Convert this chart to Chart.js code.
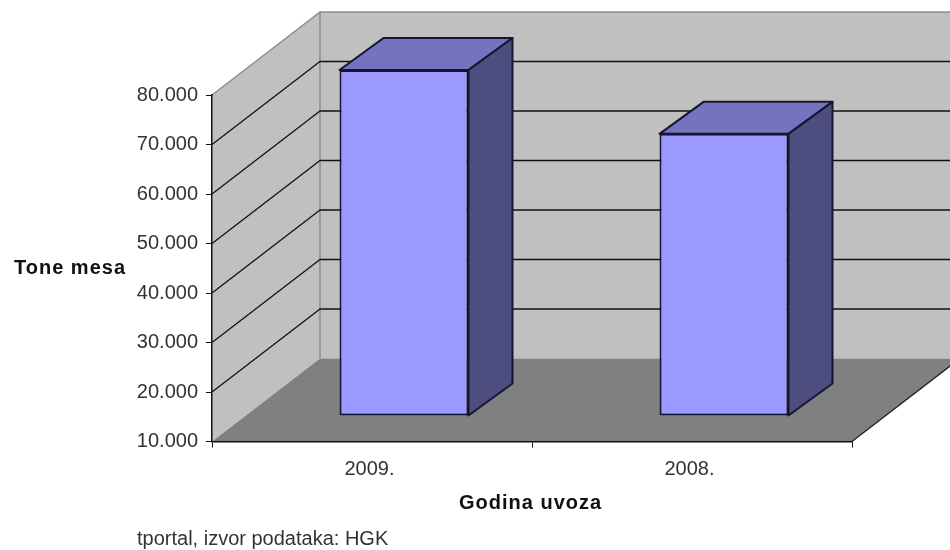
<!DOCTYPE html>
<html>
<head>
<meta charset="utf-8">
<title>Tone mesa</title>
<script src="https://cdn.jsdelivr.net/npm/chart.js@4"></script>
<style>
  html, body { margin: 0; padding: 0; background: #fff; }
  canvas { display: block; }
</style>
</head>
<body>
<canvas id="chart" width="950" height="550"></canvas>
<script>
// podaci
const categories = ['2009.', '2008.'];
const tonnes = [79900, 67000];
const yMin = 10000;
const yMax = 80000;
const yStep = 10000;
const yTitle = 'Tone mesa';
const xTitle = 'Godina uvoza';
const sourceNote = 'tportal, izvor podataka: HGK';

// pomak za 3D izgled
const wallDx = 108;
const wallDy = 83;
const barShiftX = 32;
const barShiftY = 25.5;
const barDepthX = 44;
const barDepthY = 32;
const lineColor = '#151530';

function poly(ctx, pts, fill, stroke, width) {
  ctx.beginPath();
  pts.forEach((p, i) => i ? ctx.lineTo(p[0], p[1]) : ctx.moveTo(p[0], p[1]));
  ctx.closePath();
  if (fill) { ctx.fillStyle = fill; ctx.fill(); }
  if (stroke) { ctx.strokeStyle = stroke; ctx.lineWidth = width; ctx.stroke(); }
}

const walls3d = {
  id: 'walls3d',
  // zidovi i pod, ispod osi
  beforeDraw(chart) {
    const { ctx, chartArea: a, scales } = chart;
    const bx = a.left + wallDx;
    const far = 960;
    ctx.save();
    ctx.lineJoin = 'round';
    poly(ctx, [[a.left, a.top], [bx, a.top - wallDy], [bx, a.bottom - wallDy], [a.left, a.bottom]], '#c0c0c0');
    poly(ctx, [[bx, a.top - wallDy], [far, a.top - wallDy], [far, a.bottom - wallDy], [bx, a.bottom - wallDy]], '#c0c0c0');

    // rubovi zidova
    ctx.strokeStyle = '#8c8c8c';
    ctx.lineWidth = 1.5;
    ctx.beginPath();
    ctx.moveTo(a.left, a.top);
    ctx.lineTo(bx, a.top - wallDy);
    ctx.lineTo(far, a.top - wallDy);
    ctx.moveTo(bx, a.top - wallDy);
    ctx.lineTo(bx, a.bottom - wallDy);
    ctx.stroke();

    // linije mreze
    ctx.strokeStyle = '#111';
    ctx.lineWidth = 1.3;
    scales.y.ticks.forEach(t => {
      if (t.value === yMin || t.value === yMax) return;
      const y = scales.y.getPixelForValue(t.value);
      ctx.beginPath();
      ctx.moveTo(a.left, y);
      ctx.lineTo(bx, y - wallDy);
      ctx.lineTo(far, y - wallDy);
      ctx.stroke();
    });

    // pod
    const dxFar = far - a.right;
    poly(ctx, [[a.left, a.bottom], [bx, a.bottom - wallDy], [far, a.bottom - wallDy], [far, a.bottom - dxFar * wallDy / wallDx], [a.right, a.bottom]], '#808080');
    ctx.strokeStyle = '#222';
    ctx.lineWidth = 1.3;
    ctx.beginPath();
    ctx.moveTo(a.right, a.bottom);
    ctx.lineTo(far, a.bottom - dxFar * wallDy / wallDx);
    ctx.stroke();
    ctx.restore();
  },
  // gornja i bocna strana stupaca, pa pomak stupaca u dubinu
  beforeDatasetsDraw(chart) {
    const { ctx } = chart;
    ctx.save();
    ctx.translate(barShiftX, -barShiftY);
    ctx.lineJoin = 'round';
    chart.getDatasetMeta(0).data.forEach(bar => {
      const l = bar.x - bar.width / 2;
      const r = bar.x + bar.width / 2;
      poly(ctx, [[l, bar.y], [l + barDepthX, bar.y - barDepthY], [r + barDepthX, bar.y - barDepthY], [r, bar.y]], '#7373bf', lineColor, 2);
      poly(ctx, [[r, bar.y], [r + barDepthX, bar.y - barDepthY], [r + barDepthX, bar.base - barDepthY], [r, bar.base]], '#4d4d80', lineColor, 2);
    });
  },
  afterDatasetsDraw(chart) {
    chart.ctx.restore();
  },
  // naslovi osi i izvor
  afterDraw(chart) {
    const { ctx } = chart;
    ctx.save();
    ctx.textBaseline = 'middle';
    ctx.fillStyle = '#111';
    ctx.font = 'bold 20px "Liberation Sans"';
    ctx.letterSpacing = '1px';
    ctx.fillText(yTitle, 14, 268);
    ctx.fillText(xTitle, 459, 503);
    ctx.letterSpacing = '0px';
    ctx.fillStyle = '#333';
    ctx.font = '20px "Liberation Sans"';
    ctx.fillText(sourceNote, 137, 539);
    ctx.restore();
  }
};

new Chart(document.getElementById('chart'), {
  type: 'bar',
  data: {
    labels: categories,
    datasets: [{
      data: tonnes,
      base: yMin,
      backgroundColor: '#9999ff',
      borderColor: lineColor,
      borderWidth: 2,
      borderSkipped: false,
      barPercentage: 0.806,
      categoryPercentage: 0.5,
      clip: false
    }]
  },
  options: {
    responsive: false,
    animation: false,
    layout: { padding: { top: 95, right: 98, left: 0, bottom: 34 } },
    plugins: { legend: { display: false }, tooltip: { enabled: false } },
    scales: {
      x: {
        afterFit: s => { s.height = 74.5; },
        grid: { drawOnChartArea: false, color: '#111', tickLength: 6 },
        border: { color: '#111', width: 1.5 },
        ticks: { color: '#333', font: { family: 'Liberation Sans', size: 20 }, padding: 10, labelOffset: -2.5 }
      },
      y: {
        min: yMin,
        max: yMax,
        afterFit: s => { s.width = 212; },
        grid: { drawOnChartArea: false, color: '#111', tickLength: 6 },
        border: { color: '#111', width: 1.5 },
        ticks: {
          stepSize: yStep,
          color: '#333',
          font: { family: 'Liberation Sans', size: 20 },
          padding: 8,
          callback: v => v.toLocaleString('de-DE', { minimumFractionDigits: 0 }).replace(',', '.')
        }
      }
    }
  },
  plugins: [walls3d]
});
</script>
</body>
</html>
